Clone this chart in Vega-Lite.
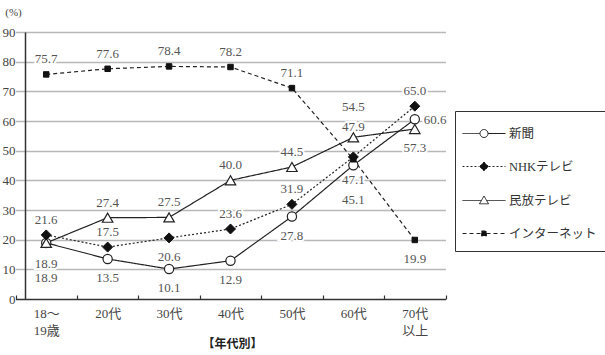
{
  "$schema": "https://vega.github.io/schema/vega-lite/v6.json",
  "autosize": {"type": "none"},
  "padding": {"left": 25, "top": 32, "right": 165, "bottom": 56},
  "width": 415,
  "height": 267,
  "background": "white",
  "config": {
    "view": {"stroke": null},
    "font": "'Liberation Serif', 'Noto Sans CJK JP', serif"
  },
  "data": {
    "values": [
      {"age": "18〜19歳", "media": "新聞", "value": 18.9},
      {"age": "20代", "media": "新聞", "value": 13.5},
      {"age": "30代", "media": "新聞", "value": 10.1},
      {"age": "40代", "media": "新聞", "value": 12.9},
      {"age": "50代", "media": "新聞", "value": 27.8},
      {"age": "60代", "media": "新聞", "value": 45.1},
      {"age": "70代以上", "media": "新聞", "value": 60.6},
      {"age": "18〜19歳", "media": "NHKテレビ", "value": 21.6},
      {"age": "20代", "media": "NHKテレビ", "value": 17.5},
      {"age": "30代", "media": "NHKテレビ", "value": 20.6},
      {"age": "40代", "media": "NHKテレビ", "value": 23.6},
      {"age": "50代", "media": "NHKテレビ", "value": 31.9},
      {"age": "60代", "media": "NHKテレビ", "value": 47.9},
      {"age": "70代以上", "media": "NHKテレビ", "value": 65.0},
      {"age": "18〜19歳", "media": "民放テレビ", "value": 18.9},
      {"age": "20代", "media": "民放テレビ", "value": 27.4},
      {"age": "30代", "media": "民放テレビ", "value": 27.5},
      {"age": "40代", "media": "民放テレビ", "value": 40.0},
      {"age": "50代", "media": "民放テレビ", "value": 44.5},
      {"age": "60代", "media": "民放テレビ", "value": 54.5},
      {"age": "70代以上", "media": "民放テレビ", "value": 57.3},
      {"age": "18〜19歳", "media": "インターネット", "value": 75.7},
      {"age": "20代", "media": "インターネット", "value": 77.6},
      {"age": "30代", "media": "インターネット", "value": 78.4},
      {"age": "40代", "media": "インターネット", "value": 78.2},
      {"age": "50代", "media": "インターネット", "value": 71.1},
      {"age": "60代", "media": "インターネット", "value": 47.1},
      {"age": "70代以上", "media": "インターネット", "value": 19.9}
    ]
  },
  "encoding": {
    "x": {
      "field": "age",
      "type": "nominal",
      "sort": ["18〜19歳", "20代", "30代", "40代", "50代", "60代", "70代以上"],
      "scale": {"type": "band", "range": [-9.5, 420.5], "paddingInner": 0, "paddingOuter": 0},
      "axis": {
        "title": "【年代別】",
        "titleFont": "Noto Sans CJK JP",
        "titleFontSize": 12,
        "titleFontWeight": "bold",
        "titleColor": "#222",
        "titleX": 207,
        "titleY": 44,
        "titleBaseline": "middle",
        "titleAlign": "center",
        "labelAngle": 0,
        "labelFontSize": 13,
        "labelColor": "#444",
        "labelPadding": 12,
        "labelLineHeight": 17,
        "labelBaseline": "top",
        "labelExpr": "datum.value == '18〜19歳' ? ['18〜', '19歳'] : datum.value == '70代以上' ? ['70代', '以上'] : datum.label",
        "domain": false,
        "ticks": true,
        "tickBand": "extent",
        "tickSize": -4,
        "tickColor": "#333",
        "tickWidth": 1.2,
        "grid": false
      }
    },
    "y": {
      "field": "value",
      "type": "quantitative",
      "scale": {"domain": [0, 90], "nice": false, "zero": true},
      "axis": {
        "values": [0, 10, 20, 30, 40, 50, 60, 70, 80, 90],
        "title": "(%)",
        "titleAngle": 0,
        "titleX": -12,
        "titleY": -20,
        "titleAlign": "center",
        "titleBaseline": "middle",
        "titleFontSize": 11,
        "titleFontWeight": "normal",
        "titleColor": "#444",
        "labelFontSize": 13,
        "labelColor": "#444",
        "labelPadding": 10,
        "ticks": false,
        "domain": true,
        "domainColor": "#333",
        "domainWidth": 1.5,
        "grid": true,
        "gridColor": {"condition": {"test": "datum.value === 0", "value": "#333"}, "value": "#b8b8b8"},
        "gridWidth": 1.5
      }
    }
  },
  "layer": [
    {
      "mark": {"type": "line", "stroke": "#222", "strokeWidth": 1.2},
      "encoding": {
        "detail": {"field": "media"},
        "strokeDash": {
          "field": "media",
          "type": "nominal",
          "scale": {
            "domain": ["新聞", "NHKテレビ", "民放テレビ", "インターネット"],
            "range": [[1, 0], [2, 2], [1, 0], [4, 3]]
          },
          "legend": {
            "title": null,
            "orient": "none",
            "legendX": 430,
            "legendY": 79,
            "strokeColor": "#333",
            "padding": 11,
            "symbolSize": 484,
            "symbolStrokeWidth": 1,
            "symbolStrokeColor": "#222",
            "rowPadding": 15,
            "labelOffset": 20,
            "labelFontSize": 12.5,
            "labelColor": "#333",
            "labelFont": "'Liberation Serif', 'Noto Sans CJK JP', serif",
            "encode": {
              "symbols": {
                "update": {
                  "shape": {"signal": "datum.value === '新聞' ? 'M-1.364,0H0.227M0.955,0H2.545M0.955,0A0.364,0.364 0 1,1 0.227,0A0.364,0.364 0 1,1 0.955,0Z' : datum.value === 'NHKテレビ' ? 'M-1.364,0H0.181M1.001,0H2.545M0.591,-0.41L1.001,0L0.591,0.41L0.181,0Z' : datum.value === '民放テレビ' ? 'M-1.364,0H0.354M0.828,0H2.545M0.591,-0.41L1.001,0.3L0.181,0.3Z' : 'M-1.364,0H0.361M0.821,0H2.545M0.361,-0.23H0.821V0.23H0.361Z'"},
                  "fill": {"signal": "datum.value === 'NHKテレビ' || datum.value === 'インターネット' ? '#111' : '#ffffff'"},
                  "stroke": {"value": "#222"}
                }
              }
            }
          }
        }
      }
    },
    {
      "transform": [{"filter": "datum.media === '新聞'"}],
      "mark": {"type": "point", "shape": "circle", "size": 85, "filled": false, "fill": "#ffffff", "stroke": "#222", "strokeWidth": 1.2, "opacity": 1}
    },
    {
      "transform": [{"filter": "datum.media === '民放テレビ'"}],
      "mark": {"type": "point", "shape": "triangle-up", "size": 110, "filled": false, "fill": "#ffffff", "stroke": "#222", "strokeWidth": 1.2, "opacity": 1}
    },
    {
      "transform": [{"filter": "datum.media === 'NHKテレビ'"}],
      "mark": {"type": "point", "shape": "diamond", "size": 100, "filled": true, "fill": "#111", "stroke": "#111", "strokeWidth": 1, "opacity": 1}
    },
    {
      "transform": [{"filter": "datum.media === 'インターネット'"}],
      "mark": {"type": "point", "shape": "square", "size": 30, "filled": true, "fill": "#111", "stroke": "#111", "strokeWidth": 1, "opacity": 1}
    },
    {
      "transform": [{"filter": "indexof(['新聞|20代','新聞|30代','新聞|40代','新聞|50代','NHKテレビ|30代','インターネット|70代以上','民放テレビ|70代以上','新聞|18〜19歳','民放テレビ|18〜19歳','新聞|60代','インターネット|60代','NHKテレビ|60代','民放テレビ|60代','新聞|70代以上'], datum.media + '|' + datum.age) < 0"}],
      "encoding": {"text": {"field": "value", "type": "quantitative", "format": ".1f"}},
      "layer": [
        {"mark": {"type": "text", "dy": -15, "fontSize": 13, "fill": "white", "stroke": "white", "strokeWidth": 4, "baseline": "middle"}},
        {"mark": {"type": "text", "dy": -15, "fontSize": 13, "fill": "#555", "baseline": "middle"}}
      ]
    },
    {
      "transform": [{"filter": "indexof(['新聞|20代','新聞|30代','新聞|40代','新聞|50代','NHKテレビ|30代','インターネット|70代以上','民放テレビ|70代以上'], datum.media + '|' + datum.age) >= 0"}],
      "encoding": {"text": {"field": "value", "type": "quantitative", "format": ".1f"}},
      "layer": [
        {"mark": {"type": "text", "dy": 19, "fontSize": 13, "fill": "white", "stroke": "white", "strokeWidth": 4, "baseline": "middle"}},
        {"mark": {"type": "text", "dy": 19, "fontSize": 13, "fill": "#555", "baseline": "middle"}}
      ]
    },
    {
      "transform": [{"filter": "datum.media + '|' + datum.age === '新聞|18〜19歳' || datum.media + '|' + datum.age === '新聞|60代'"}],
      "encoding": {"text": {"field": "value", "type": "quantitative", "format": ".1f"}},
      "layer": [
        {"mark": {"type": "text", "dy": 35, "fontSize": 13, "fill": "white", "stroke": "white", "strokeWidth": 4, "baseline": "middle"}},
        {"mark": {"type": "text", "dy": 35, "fontSize": 13, "fill": "#555", "baseline": "middle"}}
      ]
    },
    {
      "transform": [{"filter": "datum.media + '|' + datum.age === '民放テレビ|18〜19歳' || datum.media + '|' + datum.age === 'インターネット|60代'"}],
      "encoding": {"text": {"field": "value", "type": "quantitative", "format": ".1f"}},
      "layer": [
        {"mark": {"type": "text", "dy": 21, "fontSize": 13, "fill": "white", "stroke": "white", "strokeWidth": 4, "baseline": "middle"}},
        {"mark": {"type": "text", "dy": 21, "fontSize": 13, "fill": "#555", "baseline": "middle"}}
      ]
    },
    {
      "transform": [{"filter": "datum.media + '|' + datum.age === 'NHKテレビ|60代' || datum.media + '|' + datum.age === '民放テレビ|60代'"}],
      "encoding": {"text": {"field": "value", "type": "quantitative", "format": ".1f"}},
      "layer": [
        {"mark": {"type": "text", "dy": -30, "fontSize": 13, "fill": "white", "stroke": "white", "strokeWidth": 4, "baseline": "middle"}},
        {"mark": {"type": "text", "dy": -30, "fontSize": 13, "fill": "#555", "baseline": "middle"}}
      ]
    },
    {
      "transform": [{"filter": "datum.media + '|' + datum.age === '新聞|70代以上'"}],
      "encoding": {"text": {"field": "value", "type": "quantitative", "format": ".1f"}},
      "layer": [
        {"mark": {"type": "text", "dx": 9, "dy": 1, "align": "left", "fontSize": 13, "fill": "white", "stroke": "white", "strokeWidth": 4, "baseline": "middle"}},
        {"mark": {"type": "text", "dx": 9, "dy": 1, "align": "left", "fontSize": 13, "fill": "#555", "baseline": "middle"}}
      ]
    }
  ]
}
